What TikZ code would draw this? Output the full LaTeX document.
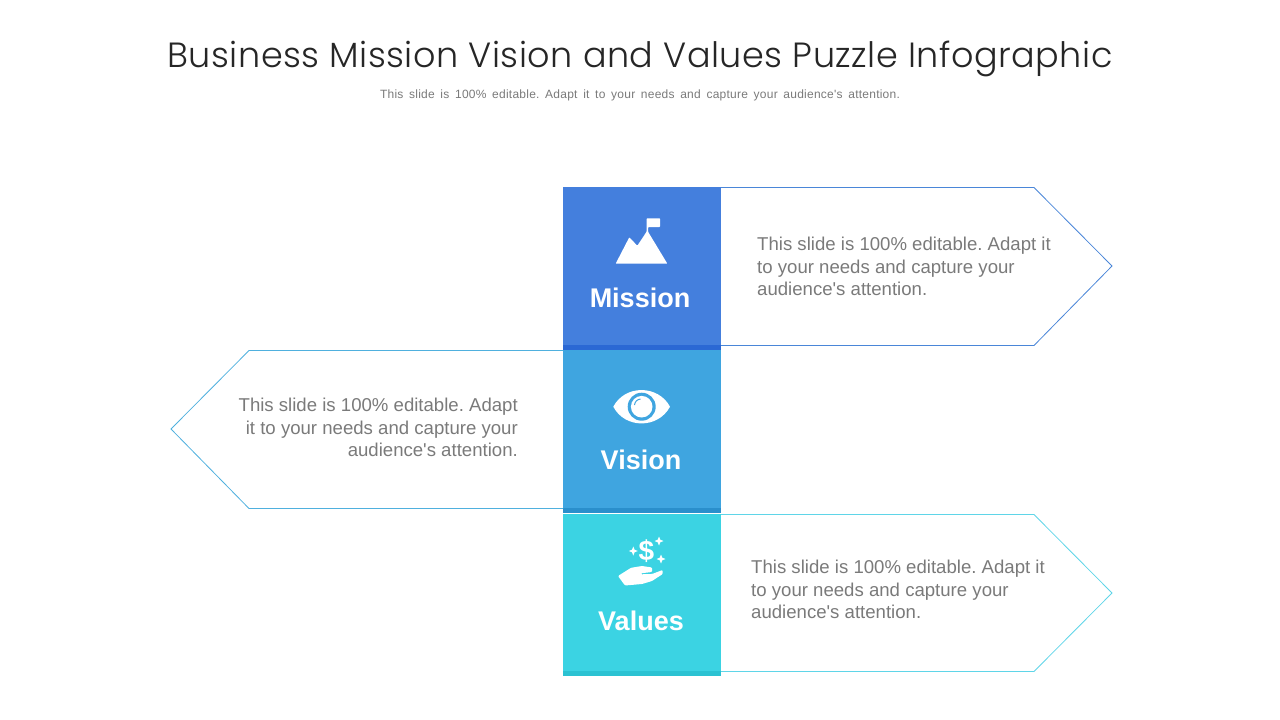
\documentclass[tikz,border=0pt]{standalone}
\usepackage{fontspec}
\setmainfont[Ligatures=TeXOff]{Liberation Sans}
\newfontfamily\titlefont[LetterSpace=1.5]{Poppins Light}
\newfontfamily\subfont[LetterSpace=2,WordSpace=1.6]{Liberation Sans}
\usetikzlibrary{positioning}
\definecolor{missionblue}{HTML}{447FDD}
\definecolor{missiondark}{HTML}{2B68D4}
\definecolor{missionline}{HTML}{4A86D8}
\definecolor{visionblue}{HTML}{3FA5E0}
\definecolor{visiondark}{HTML}{2A8FCC}
\definecolor{visionline}{HTML}{4FB0DE}
\definecolor{valuesblue}{HTML}{3BD3E3}
\definecolor{valuesdark}{HTML}{2BC2D2}
\definecolor{valuesline}{HTML}{5FD5E8}
\definecolor{bodygray}{HTML}{7A7A7A}
\tikzset{
	mainbox/.style={rectangle, inner sep=0pt, outer sep=0pt, minimum width=158pt, minimum height=158pt},
	stripbox/.style={rectangle, inner sep=0pt, outer sep=0pt, minimum width=158pt, minimum height=5pt},
	boxlabel/.style={inner sep=0pt, text=white, font=\fontsize{27}{27}\selectfont\bfseries},
	bodytext/.style={inner sep=0pt, text=bodygray, font=\fontsize{18.6}{22.5}\selectfont\frenchspacing},
	outline/.style={line width=0.8pt},
	icon/.style={fill=white, draw=none}
}
\begin{document}
\begin{tikzpicture}[x=1pt,y=-1pt]
	\useasboundingbox (0,0) rectangle (1280,720);
	\node[inner sep=0pt, anchor=base, text=black!85, font=\titlefont\fontsize{35}{35}\selectfont] (title) at (640,67) {Business Mission Vision and Values Puzzle Infographic};
	\node[inner sep=0pt, text=bodygray, font=\subfont\fontsize{12}{12}\selectfont\frenchspacing] (subtitle) at (640,95) {This slide is 100\% editable. Adapt it to your needs and capture your audience's attention.};

	% colour blocks
	\node[mainbox, fill=missionblue] (missionbox) at (642,266) {};
	\node[stripbox, fill=missiondark, below=0pt of missionbox] (missionstrip) {};
	\node[mainbox, fill=visionblue, below=0pt of missionstrip] (visionbox) {};
	\node[stripbox, fill=visiondark, below=0pt of visionbox] (visionstrip) {};
	\node[mainbox, minimum height=157pt, fill=valuesblue, below=1pt of visionstrip] (valuesbox) {};
	\node[stripbox, fill=valuesdark, below=0pt of valuesbox] (valuesstrip) {};

	\node[boxlabel] (missionlabel) at (640,298) {Mission};
	\node[boxlabel] (visionlabel) at (641,460) {Vision};
	\node[boxlabel] (valueslabel) at (641,621) {Values};

	% outlines
	\coordinate (missiona) at (1034,187.5);
	\coordinate (missiontip) at (1112,266);
	\coordinate (missionb) at (1034,345.5);
	\draw[outline, missionline] ([yshift=-0.5pt]missionbox.north east) -- (missiona) -- (missiontip) -- (missionb) -- ([yshift=-0.5pt]missionbox.south east);
	\coordinate (visiona) at (249,350.5);
	\coordinate (visiontip) at (171,429);
	\coordinate (visionb) at (249,508.5);
	\draw[outline, visionline] ([yshift=-0.5pt]visionbox.north west) -- (visiona) -- (visiontip) -- (visionb) -- ([yshift=-0.5pt]visionbox.south west);
	\coordinate (valuesa) at (1034,514.5);
	\coordinate (valuestip) at (1112,593);
	\coordinate (valuesb) at (1034,671.5);
	\draw[outline, valuesline] ([yshift=-0.5pt]valuesbox.north east) -- (valuesa) -- (valuestip) -- (valuesb) -- ([yshift=-0.5pt]valuesbox.south east);

	\node[bodytext, anchor=west, align=left] (missiontext) at (757,266.8) {This slide is 100\% editable. Adapt it\\to your needs and capture your\\audience's attention.};
	\node[bodytext, anchor=east, align=right] (visiontext) at (518,427.8) {This slide is 100\% editable. Adapt\\it to your needs and capture your\\audience's attention.};
	\node[bodytext, anchor=west, align=left] (valuestext) at (751,589.8) {This slide is 100\% editable. Adapt it\\to your needs and capture your\\audience's attention.};

	% mountain
	\fill[icon, rounded corners=0.6pt] (615.7,263.6) -- (629.3,237.3) -- (637.3,245.7) -- (646.6,231.7) -- (646.6,218.3) -- (660,218.3) -- (660,227) -- (648.2,227) -- (648.2,232) -- (667.3,263.6) -- cycle;
	% eye
	\fill[icon] (613.3,406.7) .. controls (625,384.5) and (658,384.5) .. (670,406.7) .. controls (658,429) and (625,429) .. (613.3,406.7) -- cycle;
	\fill[visionblue] (641.7,406.7) circle (14);
	\fill[icon] (641.7,406.7) circle (10.8);
	\draw[visionblue, line width=1pt] (634.5,405) .. controls (635,401.5) and (637,399.5) .. (640.5,399);
	% hand
	\node[inner sep=0pt, text=white, font=\fontsize{28}{28}\selectfont\bfseries] (dollar) at (646.5,551.5) {\$};
	\fill[icon] (633.3,546.5) -- (634.6,549.7) -- (637.8,551) -- (634.6,552.3) -- (633.3,555.5) -- (632,552.3) -- (628.8,551) -- (632,549.7) -- cycle;
	\fill[icon] (659,536.5) -- (660.3,539.7) -- (663.5,541) -- (660.3,542.3) -- (659,545.5) -- (657.7,542.3) -- (654.5,541) -- (657.7,539.7) -- cycle;
	\fill[icon] (661,554.5) -- (662.3,557.7) -- (665.5,559) -- (662.3,560.3) -- (661,563.5) -- (659.7,560.3) -- (656.5,559) -- (659.7,557.7) -- cycle;
	\fill[icon, rounded corners=1pt] (618,576) -- (631,567.8) -- (642,566) -- (652,567.5) -- (652,572) -- (641,573.3) -- (641,574.3) -- (652,574) -- (662.7,570) -- (662.7,574) -- (652,581) -- (642,584) -- (625,585.5) -- cycle;
\end{tikzpicture}
\end{document}
